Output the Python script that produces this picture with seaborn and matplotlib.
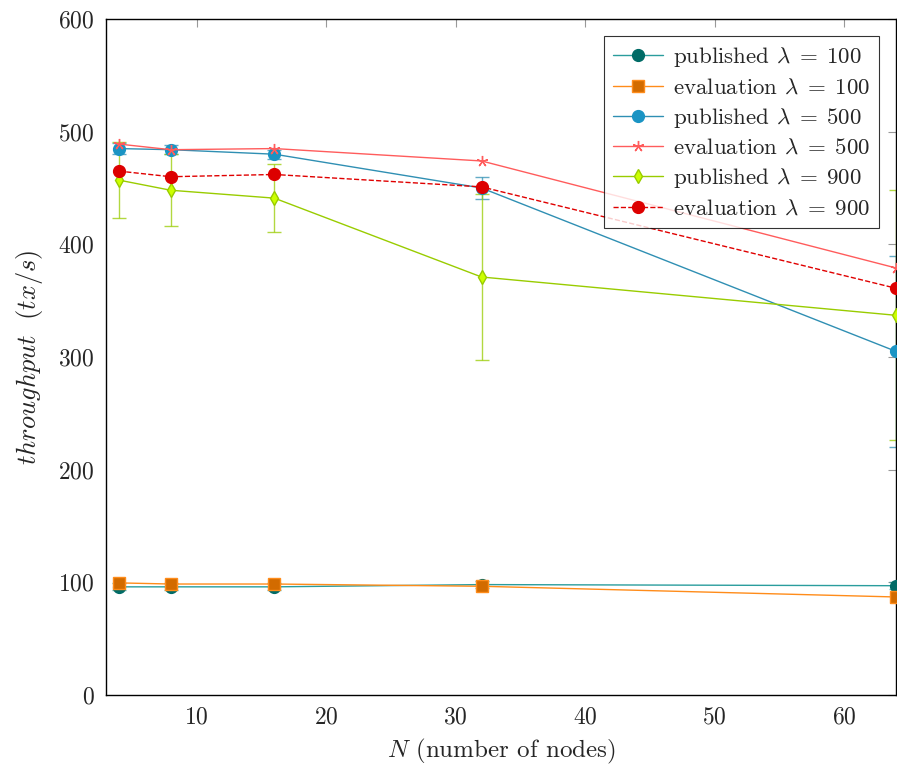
"""Throughput vs. number of nodes, published vs. evaluation."""

import matplotlib

matplotlib.use("Agg")

import matplotlib.pyplot as plt
import pandas as pd
import seaborn as sns

# --- data ---
nodes = [4, 8, 16, 32, 64]

pub_100 = [96, 96, 96, 98, 97]
pub_100_err = [3, 3, 3, 3, 3]
eval_100 = [99.5, 98.5, 98.5, 96.5, 87]

pub_500 = [485, 484, 480, 450, 305]
pub_500_err = [5, 4, 4, 10, 85]
eval_500 = [489, 484, 485, 474, 379]

pub_900 = [457, 448, 441, 371, 337]
pub_900_err = [34, 32, 30, 74, 111]
eval_900 = [465, 460, 462, 451, 361]

x_ticks = [10, 20, 30, 40, 50, 60]
y_ticks = [0, 100, 200, 300, 400, 500, 600]

sns.set_style("white")
plt.rcParams["font.family"] = ["cmr10", "DejaVu Serif"]
plt.rcParams["mathtext.fontset"] = "cm"
plt.rcParams["axes.unicode_minus"] = False
plt.rcParams["axes.formatter.use_mathtext"] = True

fig = plt.figure(figsize=(8.97, 7.67), dpi=100)
ax = fig.add_axes([106 / 897, 72 / 767, 790 / 897, 676 / 767])

# (label, values, err, line colour, marker, face, edge, size, linestyle)
series = [
    (r"published $\lambda\;=\;100$", pub_100, pub_100_err, "#2a9d9d", "o", "#006b66", "#006b66", 8.5, "-"),
    (r"evaluation $\lambda\;=\;100$", eval_100, None, "#ff8c1a", "s", "#d26b00", "#ff8c1a", 8, "-"),
    (r"published $\lambda\;=\;500$", pub_500, pub_500_err, "#2f8fb3", "o", "#1a94c4", "#1a94c4", 8.5, "-"),
    (r"evaluation $\lambda\;=\;500$", eval_500, None, "#ff5c5c", (5, 2, 0), "#ff5c5c", "#ff5c5c", 8, "-"),
    (r"published $\lambda\;=\;900$", pub_900, pub_900_err, "#99cc00", "d", "#ccff00", "#99cc00", 7, "-"),
    (r"evaluation $\lambda\;=\;900$", eval_900, None, "#e00000", "o", "#dd0000", "#dd0000", 8.5, "--"),
]

for label, vals, err, lc, mk, fc, ec, ms, ls in series:
    df = pd.DataFrame({"N": nodes, "tp": vals})
    if err is not None:
        ax.errorbar(nodes, vals, yerr=err, fmt="none", ecolor=lc, elinewidth=1.0,
                    capsize=5, capthick=1.0, alpha=0.75, zorder=2)
    sns.lineplot(data=df, x="N", y="tp", ax=ax, color=lc, linestyle=ls,
                 linewidth=1.0, marker=mk, markersize=ms,
                 markerfacecolor=fc, markeredgecolor=ec, markeredgewidth=1.0,
                 label=label, zorder=3)

ax.set_xlim(3, 64)
ax.set_ylim(0, 600)
ax.set_xticks(x_ticks)
ax.set_yticks(y_ticks)
ax.tick_params(axis="both", direction="in", length=6, width=0.8, color="#999999",
               top=True, right=True, labelsize=17, pad=8)
for sp in ax.spines.values():
    sp.set_color("black")
    sp.set_linewidth(1.0)

ax.set_xlabel(r"$N$ (number of nodes)", fontsize=18, labelpad=6)
ax.set_ylabel(r"$throughput\ \ (tx/s)$", fontsize=19, labelpad=10)

leg = ax.legend(loc="upper right", fontsize=16.5, frameon=True, fancybox=False,
                edgecolor="black", borderaxespad=0.75, handlelength=2.2,
                handletextpad=0.4, labelspacing=0.36, borderpad=0.4)
leg.get_frame().set_linewidth(0.8)

fig.savefig("out.png", dpi=100)
plt.close(fig)
